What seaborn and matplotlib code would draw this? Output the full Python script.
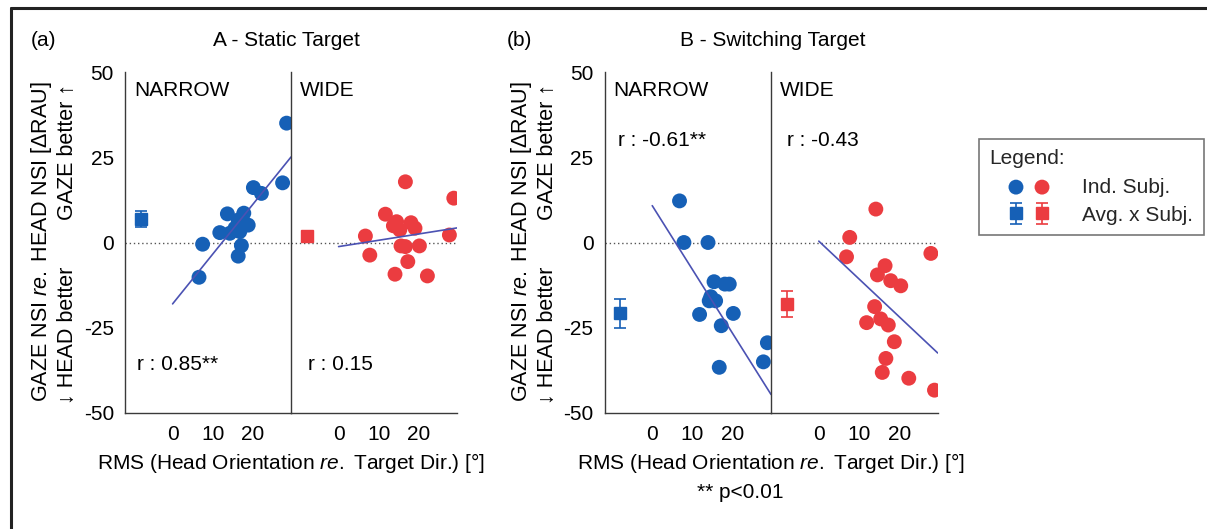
import numpy as np
import pandas as pd
import matplotlib
matplotlib.use("Agg")
import matplotlib.pyplot as plt
import seaborn as sns
from matplotlib.legend_handler import HandlerTuple
from matplotlib.lines import Line2D

# ---------------- data ----------------
a_narrow_x = [28.5, 27.5, 20.2, 22.2, 13.7, 17.8, 18.9, 16.4, 15.6, 16.8, 11.8, 14.3, 7.5, 17.2, 16.4, 6.6]
a_narrow_y = [35.0, 17.5, 16.1, 14.4, 8.4, 8.6, 5.1, 6.6, 4.2, 3.2, 2.9, 2.7, -0.5, -0.9, -4.0, -10.2]

a_wide_x = [16.7, 28.8, 11.7, 14.5, 18.1, 13.7, 15.3, 19.1, 6.7, 27.7, 15.6, 16.7, 20.2, 7.8, 17.3, 14.1, 22.2]
a_wide_y = [17.8, 13.0, 8.3, 6.1, 5.8, 4.9, 3.7, 4.2, 1.9, 2.2, -1.0, -1.2, -1.0, -3.7, -5.6, -9.3, -9.8]

b_narrow_x = [6.8, 7.9, 13.9, 15.4, 18.1, 19.2, 14.6, 14.2, 15.8, 11.8, 20.2, 17.2, 28.7, 27.7, 16.7]
b_narrow_y = [12.2, 0.0, 0.0, -11.5, -12.2, -12.2, -15.9, -17.1, -17.1, -21.1, -20.8, -24.4, -29.4, -35.0, -36.6]

b_wide_x = [14.2, 7.7, 6.9, 27.9, 16.5, 14.6, 17.9, 20.4, 13.9, 15.4, 11.9, 17.3, 18.8, 16.7, 15.8, 22.4, 28.8]
b_wide_y = [9.8, 1.5, -4.2, -3.2, -6.8, -9.5, -11.2, -12.7, -18.8, -22.4, -23.5, -24.2, -29.1, -34.0, -38.1, -39.8, -43.3]

# average across subjects (plotted at x = -8) and its error
avg_x = -8
avg_mean = {"A_narrow": 6.8, "A_wide": 2.0, "B_narrow": -20.8, "B_wide": -18.1}
avg_err = {"A_narrow": 2.4, "A_wide": 0.8, "B_narrow": 4.3, "B_wide": 3.8}

# regression lines: intercept and slope
fit_intercept = {"A_narrow": -18.0, "A_wide": -1.2, "B_narrow": 10.8, "B_wide": 0.4}
fit_slope = {"A_narrow": 1.455, "A_wide": 0.185, "B_narrow": -1.87, "B_wide": -1.108}
fit_x_range = [0, 29.6]

r_labels = {"A_narrow": "r : 0.85**", "A_wide": "r : 0.15",
            "B_narrow": "r : -0.61**", "B_wide": "r : -0.43"}

x_ticks = [0, 10, 20]
y_ticks = [-50, -25, 0, 25, 50]

# ---------------- style ----------------
sns.set_theme(style="white")
plt.rcParams['font.family'] = ['Liberation Sans', 'DejaVu Sans']
plt.rcParams['mathtext.fontset'] = 'custom'
plt.rcParams['mathtext.rm'] = 'Liberation Sans'
plt.rcParams['mathtext.it'] = 'Liberation Sans:italic'
plt.rcParams['axes.unicode_minus'] = False

BLUE = '#1660b6'
RED = '#eb3c40'
FIT = '#4b52b3'
DARK = '#3a3a3a'
FS = 15

W, H = 1207, 529
fig = plt.figure(figsize=(W / 100, H / 100), dpi=100)


def fx(px):
    return px / W


def fy(py):
    return 1 - py / H


data = {
    "A_narrow": (a_narrow_x, a_narrow_y, BLUE),
    "A_wide": (a_wide_x, a_wide_y, RED),
    "B_narrow": (b_narrow_x, b_narrow_y, BLUE),
    "B_wide": (b_wide_x, b_wide_y, RED),
}

panels = [("A", 125.0, 291.0, 457.0), ("B", 604.5, 771.0, 937.7)]
handles = {}
for pname, x0, xm, x1 in panels:
    for key, (l, r) in (("narrow", (x0, xm)), ("wide", (xm, x1))):
        name = f"{pname}_{key}"
        ax = fig.add_axes([fx(l), fy(413), (r - l) / W, 341 / H])
        ax.set_xlim(-11.9, 29.6)
        ax.set_ylim(-50, 50)
        ax.axhline(0, color='#555555', lw=1.0, ls=(0, (1, 2)), zorder=1)
        xs, ys, col = data[name]
        df = pd.DataFrame({"x": xs, "y": ys})
        sns.scatterplot(data=df, x="x", y="y", color=col, s=115, edgecolor='none',
                        ax=ax, zorder=3, legend=False)
        handles[name + "_sc"] = ax.collections[-1]
        fxr = np.array(fit_x_range)
        sns.lineplot(x=fxr, y=fit_intercept[name] + fit_slope[name] * fxr,
                     color=FIT, lw=1.2, ax=ax, zorder=4)
        eb = ax.errorbar([avg_x], [avg_mean[name]], yerr=[avg_err[name]], fmt='s',
                         color=col, ms=9, capsize=4, elinewidth=1.2, capthick=1.2, zorder=5)
        handles[name + "_eb"] = eb
        for s in ("top", "right"):
            ax.spines[s].set_visible(False)
        for s in ("left", "bottom"):
            ax.spines[s].set_color(DARK)
            ax.spines[s].set_linewidth(1.0)
        ax.set_xticks(x_ticks)
        ax.set_yticks(y_ticks)
        ax.tick_params(direction='in', length=4, width=0.8, color='#888888',
                       labelsize=FS, labelcolor='black')
        ax.tick_params(axis='y', pad=8)
        ax.tick_params(axis='x', pad=9)
        ax.set_xlabel("")
        ax.set_ylabel("")
        if key == "wide":
            ax.tick_params(labelleft=False)
        ax.set_facecolor('none')

# ---------------- texts ----------------
txt = dict(fontsize=FS, color='black')
fig.text(fx(31), fy(40), "(a)", ha='left', va='center', **txt)
fig.text(fx(286), fy(40), "A - Static Target", ha='center', va='center', **txt)
fig.text(fx(507), fy(40), "(b)", ha='left', va='center', **txt)
fig.text(fx(773), fy(40), "B - Switching Target", ha='center', va='center', **txt)

ytxt = dict(fontsize=15.5, color='black', rotation=90, ha='center', va='center')
for pname, x0, xm, x1 in panels:
    fig.text(fx(x0 + 9), fy(90), "NARROW", ha='left', va='center', **txt)
    fig.text(fx(xm + 9), fy(90), "WIDE", ha='left', va='center', **txt)
    fig.text(fx((x0 + x1) / 2), fy(463), r"RMS (Head Orientation $\it{re.}$ Target Dir.) [°]",
             ha='center', va='center', **txt)
    fig.text(fx(x0 - 83), fy(242), r"GAZE NSI $\it{re.}$ HEAD NSI [ΔRAU]", **ytxt)
    fig.text(fx(x0 - 57), fy(335), "↓ HEAD better", **ytxt)
    fig.text(fx(x0 - 57), fy(152), "GAZE better ↑", **ytxt)

fig.text(fx(137), fy(365), r_labels["A_narrow"], ha='left', va='center', **txt)
fig.text(fx(308), fy(365), r_labels["A_wide"], ha='left', va='center', **txt)
fig.text(fx(618), fy(141), r_labels["B_narrow"], ha='left', va='center', **txt)
fig.text(fx(787), fy(141), r_labels["B_wide"], ha='left', va='center', **txt)
fig.text(fx(740), fy(492), "** p<0.01", ha='center', va='center', **txt)

# ---------------- legend ----------------
leg = fig.legend(
    handles=[(handles["A_narrow_sc"], handles["A_wide_sc"]),
             (handles["A_narrow_eb"], handles["A_wide_eb"])],
    labels=["Ind. Subj.", "Avg. x Subj."],
    handler_map={tuple: HandlerTuple(ndivide=None, pad=0.2, xpad=0.75)},
    title="Legend:", title_fontsize=FS, fontsize=FS,
    loc='upper left', bbox_to_anchor=(fx(979), fy(139)), borderaxespad=0,
    frameon=True, fancybox=False, edgecolor='#555555', alignment='left',
    handlelength=3.05, handletextpad=1.4, borderpad=0.5, labelspacing=0.44)
leg.get_frame().set_linewidth(1.2)

# ---------------- outer frame (left and top edges) ----------------
fig.add_artist(Line2D([fx(11), fx(11)], [0, fy(8)], color='#222222', lw=2.2,
                      transform=fig.transFigure))
fig.add_artist(Line2D([fx(11), 1], [fy(8), fy(8)], color='#222222', lw=2.2,
                      transform=fig.transFigure))

fig.savefig("out.png", dpi=100, facecolor='white')
